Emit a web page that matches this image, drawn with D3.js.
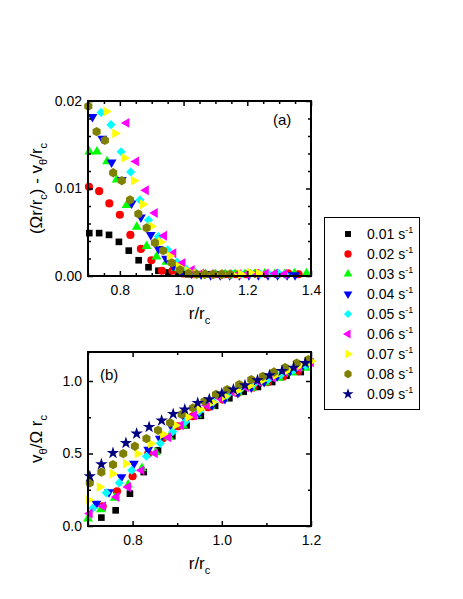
<!DOCTYPE html>
<html>
<head>
<meta charset="utf-8">
<script src="https://cdn.jsdelivr.net/npm/d3@7"></script>
<style>
  body { margin: 0; background: #fff; }
  text { font-family: "Liberation Sans", Arial, sans-serif; }
</style>
</head>
<body>
<svg id="chart" width="463" height="599"></svg>
<script>
// shear rates shown in the legend
const rates = ["0.01", "0.02", "0.03", "0.04", "0.05", "0.06", "0.07", "0.08", "0.09"];

// panel (a): r/rc and (Omega r/rc - v_theta/rc), one row per rate (no 0.09 data)
const aR = [
  [0.704,0.735,0.766,0.797,0.828,0.859,0.890,0.921,0.952,0.983,1.014,1.045,1.076,1.107,1.138,1.169,1.200,1.231,1.262,1.293,1.324,1.355],
  [0.703,0.735,0.767,0.800,0.833,0.866,0.899,0.932,0.965,0.998,1.031,1.064,1.097,1.130,1.163,1.196,1.229,1.262,1.295,1.328,1.361],
  [0.704,0.728,0.760,0.790,0.821,0.853,0.884,0.915,0.946,0.976,1.007,1.038,1.069,1.100,1.131,1.162,1.193,1.224,1.255,1.286,1.317,1.348,1.386],
  [0.714,0.745,0.774,0.806,0.837,0.866,0.897,0.921,0.945,0.968,0.995,1.025,1.055,1.085,1.115,1.145,1.175,1.205,1.235,1.265,1.295,1.325,1.350],
  [0.741,0.772,0.804,0.834,0.863,0.890,0.921,0.950,0.980,1.008,1.037,1.066,1.095,1.124,1.153,1.182,1.211,1.240,1.269,1.298,1.318],
  [0.821,0.851,0.882,0.910,0.939,0.968,0.997,1.026,1.055,1.084,1.113,1.142,1.171,1.200,1.229,1.258,1.287,1.316],
  [0.757,0.785,0.814,0.844,0.872,0.899,0.928,0.956,0.984,1.012,1.040,1.068,1.096,1.124,1.152,1.180,1.208,1.236],
  [0.701,0.727,0.753,0.779,0.806,0.832,0.858,0.884,0.910,0.936,0.963,0.989,1.015,1.041,1.067,1.093,1.120,1.146]
];
const aD = [
  [0.0049,0.0049,0.0047,0.0039,0.0029,0.0018,0.0010,0.0006,0.0004,0.0003,0.0002,0.0002,0.0002,0.0002,0.0002,0.0002,0.0002,0.0002,0.0002,0.0002,0.0002,0.0002],
  [0.0102,0.0097,0.0083,0.0070,0.0047,0.0031,0.0018,0.0006,0.0006,0.0003,0.0002,0.0002,0.0002,0.0002,0.0002,0.0002,0.0003,0.0002,0.0002,0.0003,0.0002],
  [0.0142,0.0142,0.0131,0.0110,0.0081,0.0056,0.0034,0.0022,0.0016,0.0009,0.0005,0.0003,0.0002,0.0002,0.0002,0.0002,0.0002,0.0002,0.0003,0.0002,0.0002,0.0003,0.0003],
  [0.0182,0.0157,0.0130,0.0110,0.0083,0.0067,0.0047,0.0031,0.0020,0.0011,0.0005,0.0003,0.0002,0.0001,0.0001,0.0001,0.0001,0.0001,0.0001,0.0001,0.0001,0.0001,0.0001],
  [0.0187,0.0173,0.0142,0.0119,0.0087,0.0064,0.0045,0.0030,0.0016,0.0008,0.0004,0.0002,0.0002,0.0002,0.0002,0.0002,0.0003,0.0002,0.0002,0.0003,0.0002],
  [0.0175,0.0131,0.0098,0.0072,0.0046,0.0026,0.0015,0.0007,0.0003,0.0002,0.0002,0.0002,0.0002,0.0002,0.0003,0.0003,0.0003,0.0002],
  [0.0188,0.0163,0.0135,0.0109,0.0082,0.0057,0.0039,0.0023,0.0011,0.0006,0.0003,0.0002,0.0002,0.0002,0.0002,0.0002,0.0004,0.0003],
  [0.0194,0.0165,0.0155,0.0118,0.0109,0.0087,0.0071,0.0055,0.0038,0.0029,0.0015,0.0007,0.0003,0.0002,0.0002,0.0002,0.0002,0.0002]
];

// panel (b): r/rc and v_theta/(Omega rc)
const bR = [
  [0.730,0.762,0.794,0.825,0.857,0.889,0.921,0.953,0.985,1.017,1.049,1.081,1.113,1.145,1.177],
  [0.733,0.765,0.800,0.835,0.868,0.902,0.935,0.969,1.002,1.036,1.070,1.103,1.137,1.171],
  [0.700,0.729,0.760,0.790,0.821,0.852,0.882,0.913,0.944,0.975,1.005,1.036,1.067,1.097,1.128,1.158,1.188],
  [0.719,0.747,0.775,0.803,0.835,0.861,0.890,0.920,0.949,0.978,1.007,1.036,1.066,1.095,1.124,1.153,1.183],
  [0.711,0.741,0.770,0.798,0.831,0.862,0.890,0.918,0.949,0.981,1.012,1.042,1.072,1.105,1.133,1.161,1.188],
  [0.704,0.734,0.764,0.790,0.820,0.850,0.880,0.908,0.938,0.966,0.996,1.025,1.054,1.084,1.113,1.142,1.171,1.200],
  [0.702,0.726,0.755,0.785,0.811,0.841,0.868,0.896,0.924,0.951,0.979,1.007,1.035,1.063,1.091,1.120,1.148,1.176,1.200],
  [0.704,0.730,0.756,0.779,0.805,0.831,0.857,0.884,0.910,0.935,0.961,0.987,1.012,1.039,1.066,1.092,1.117,1.142,1.168,1.194],
  [0.704,0.730,0.756,0.785,0.809,0.837,0.865,0.891,0.917,0.946,0.972,1.000,1.026,1.052,1.080,1.107,1.135,1.161,1.187]
];
const bV = [
  [0.058,0.108,0.223,0.372,0.522,0.619,0.694,0.760,0.829,0.881,0.926,0.959,0.993,1.036,1.062],
  [0.136,0.239,0.343,0.499,0.605,0.688,0.757,0.819,0.872,0.917,0.955,0.992,1.030,1.068],
  [0.050,0.115,0.194,0.285,0.398,0.508,0.612,0.694,0.767,0.829,0.877,0.919,0.953,0.988,1.022,1.057,1.091],
  [0.154,0.234,0.338,0.430,0.527,0.603,0.670,0.729,0.781,0.832,0.877,0.919,0.957,0.994,1.032,1.070,1.108],
  [0.122,0.229,0.297,0.384,0.481,0.570,0.650,0.717,0.791,0.855,0.901,0.943,0.977,1.012,1.043,1.074,1.105],
  [0.086,0.136,0.200,0.269,0.384,0.501,0.612,0.694,0.763,0.832,0.881,0.922,0.957,0.991,1.026,1.060,1.094,1.128],
  [0.180,0.269,0.361,0.430,0.499,0.568,0.632,0.694,0.750,0.805,0.853,0.894,0.932,0.967,1.005,1.039,1.074,1.108,1.136],
  [0.297,0.372,0.423,0.499,0.550,0.603,0.660,0.712,0.770,0.814,0.860,0.908,0.941,0.975,1.010,1.032,1.062,1.092,1.124,1.148],
  [0.343,0.426,0.503,0.572,0.637,0.683,0.727,0.772,0.803,0.848,0.874,0.913,0.941,0.970,1.005,1.039,1.069,1.092,1.124]
];

// tick values
const aXMajor = [0.8, 1.0, 1.2, 1.4];
const aXMinor = [0.7, 0.75, 0.85, 0.9, 0.95, 1.05, 1.1, 1.15, 1.25, 1.3, 1.35];
const aYMajor = [0, 0.01, 0.02];
const aYMinor = [0.002, 0.004, 0.006, 0.008, 0.012, 0.014, 0.016, 0.018];
const bXMajor = [0.8, 1.0, 1.2];
const bXMinor = [0.7, 0.9, 1.1];
const bYMajor = [0, 0.5, 1.0];
const bYMinor = [0.25, 0.75];

const colors = ["#000000", "#ff0000", "#00ff00", "#0000ff", "#00ffff", "#ff00ff", "#ffff00", "#808000", "#000080"];

const hexagon = {
  draw(ctx, size) {
    const r = Math.sqrt(size / (1.5 * Math.sqrt(3)));
    for (let i = 0; i < 6; i++) {
      const a = Math.PI / 6 + i * Math.PI / 3;
      if (i === 0) ctx.moveTo(r * Math.cos(a), r * Math.sin(a));
      else ctx.lineTo(r * Math.cos(a), r * Math.sin(a));
    }
    ctx.closePath();
  }
};

const marks = [
  { type: d3.symbolSquare, size: 44, rot: 0 },
  { type: d3.symbolCircle, size: 52, rot: 0 },
  { type: d3.symbolTriangle, size: 42, rot: 0 },
  { type: d3.symbolTriangle, size: 42, rot: 180 },
  { type: d3.symbolSquare, size: 42, rot: 45 },
  { type: d3.symbolTriangle, size: 42, rot: -90 },
  { type: d3.symbolTriangle, size: 42, rot: 90 },
  { type: hexagon, size: 56, rot: 0 },
  { type: d3.symbolStar, size: 48, rot: 0 }
];

const svg = d3.select("#chart");

// text with sub/superscripts: parts = [[text, ""|"sub"|"sup"], ...]
function rich(sel, parts, size) {
  let shift = 0;
  parts.forEach(([t, k]) => {
    const target = k === "sub" ? size * 0.3 : k === "sup" ? -size * 0.42 : 0;
    sel.append("tspan")
      .attr("dy", target - shift)
      .attr("font-size", k ? Math.round(size * 0.65) : size)
      .text(t);
    shift = target;
  });
}

function drawPanel(p) {
  const g = svg.append("g");
  const x = d3.scaleLinear().domain(p.xDomain).range([88, 311]);
  const y = d3.scaleLinear().domain(p.yDomain).range([p.bottom, p.top]);

  p.rs.forEach((rs, i) => {
    const vals = p.vs[i];
    const m = marks[i];
    g.append("g").selectAll("path")
      .data(rs.map((r, j) => [r, vals[j]]))
      .join("path")
      .attr("transform", d => `translate(${x(d[0])},${y(d[1])}) rotate(${m.rot})`)
      .attr("d", d3.symbol(m.type, m.size))
      .attr("fill", colors[i]);
  });

  const style = sel => {
    sel.select(".domain").remove();
    sel.selectAll("line").attr("stroke", "#000").attr("stroke-width", 1.5);
    sel.attr("font-size", 14).attr("font-family", "Liberation Sans, Arial, sans-serif");
    sel.selectAll("text").attr("fill", "#000");
  };

  g.append("g").attr("transform", `translate(0,${p.bottom})`)
    .call(d3.axisBottom(x).tickValues(p.xMajor).tickSize(-5).tickSizeOuter(0).tickPadding(9).tickFormat(d3.format(".1f")))
    .call(style);
  g.append("g").attr("transform", `translate(0,${p.bottom})`)
    .call(d3.axisBottom(x).tickValues(p.xMinor).tickSize(-3).tickSizeOuter(0).tickFormat(""))
    .call(style);
  g.append("g").attr("transform", `translate(0,${p.top})`)
    .call(d3.axisTop(x).tickValues(p.xMajor).tickSize(-5).tickSizeOuter(0).tickFormat(""))
    .call(style);
  g.append("g").attr("transform", `translate(0,${p.top})`)
    .call(d3.axisTop(x).tickValues(p.xMinor).tickSize(-3).tickSizeOuter(0).tickFormat(""))
    .call(style);
  g.append("g").attr("transform", "translate(88,0)")
    .call(d3.axisLeft(y).tickValues(p.yMajor).tickSize(-5).tickSizeOuter(0).tickPadding(6).tickFormat(d3.format(p.yFormat)))
    .call(style);
  g.append("g").attr("transform", "translate(88,0)")
    .call(d3.axisLeft(y).tickValues(p.yMinor).tickSize(-3).tickSizeOuter(0).tickFormat(""))
    .call(style);
  g.append("g").attr("transform", "translate(311,0)")
    .call(d3.axisRight(y).tickValues(p.yMajor).tickSize(-5).tickSizeOuter(0).tickFormat(""))
    .call(style);
  g.append("g").attr("transform", "translate(311,0)")
    .call(d3.axisRight(y).tickValues(p.yMinor).tickSize(-3).tickSizeOuter(0).tickFormat(""))
    .call(style);

  g.append("rect")
    .attr("x", 88).attr("y", p.top)
    .attr("width", 311 - 88).attr("height", p.bottom - p.top)
    .attr("fill", "none").attr("stroke", "#000").attr("stroke-width", 2);

  g.append("text").attr("x", p.tagX).attr("y", p.tagY).attr("font-size", 15).text(p.tag);

  const xl = g.append("text").attr("x", 199.5).attr("y", p.bottom + 43).attr("text-anchor", "middle");
  rich(xl, [["r/r", ""], ["c", "sub"]], 17);

  const yl = g.append("text")
    .attr("transform", `translate(42,${(p.top + p.bottom) / 2}) rotate(-90)`)
    .attr("text-anchor", "middle");
  rich(yl, p.yLabel, 17);
}

drawPanel({
  xDomain: [0.7, 1.4], yDomain: [0, 0.02], top: 101, bottom: 276,
  rs: aR, vs: aD,
  xMajor: aXMajor, xMinor: aXMinor, yMajor: aYMajor, yMinor: aYMinor, yFormat: ".2f",
  tag: "(a)", tagX: 273, tagY: 125,
  yLabel: [["(\u03A9r/r", ""], ["c", "sub"], [") - v", ""], ["\u03B8", "sub"], ["/r", ""], ["c", "sub"]]
});

drawPanel({
  xDomain: [0.7, 1.2], yDomain: [0, 1.2], top: 352, bottom: 526,
  rs: bR, vs: bV,
  xMajor: bXMajor, xMinor: bXMinor, yMajor: bYMajor, yMinor: bYMinor, yFormat: ".1f",
  tag: "(b)", tagX: 100, tagY: 380,
  yLabel: [["v", ""], ["\u03B8", "sub"], ["/\u03A9 r", ""], ["c", "sub"]]
});

// legend
const legend = svg.append("g");
legend.append("rect")
  .attr("x", 324.5).attr("y", 217.5).attr("width", 95).attr("height", 192)
  .attr("fill", "#fff").attr("stroke", "#000").attr("stroke-width", 1);
const rows = legend.selectAll("g.row").data(rates).join("g")
  .attr("class", "row")
  .attr("transform", (d, i) => `translate(0,${234 + i * 20})`);
rows.append("path")
  .attr("transform", (d, i) => `translate(348,0) rotate(${marks[i].rot})`)
  .attr("d", (d, i) => d3.symbol(marks[i].type, marks[i].size * 0.8)())
  .attr("fill", (d, i) => colors[i]);
rows.append("text")
  .attr("x", 367).attr("y", 5)
  .each(function (d) { rich(d3.select(this), [[d + " s", ""], ["-1", "sup"]], 14); });
</script>
</body>
</html>
